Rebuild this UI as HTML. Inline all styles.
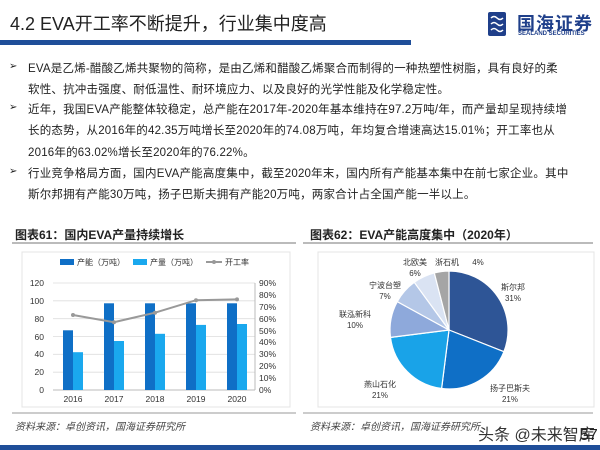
<!DOCTYPE html>
<html><head><meta charset="utf-8"><style>
body{margin:0;width:600px;height:450px;background:#fff;position:relative;overflow:hidden;font-family:"Liberation Sans","Noto Sans CJK SC",sans-serif;color:#222}
.a{position:absolute;white-space:nowrap}
.p{font-size:11.5px;left:28px;color:#222;letter-spacing:0.2px}
.b{left:9px;font-size:10px}
</style></head><body>
<div class="a" style="left:10px;top:10px;font-size:18px;color:#222">4.2 EVA开工率不断提升，行业集中度高</div>
<div class="a" style="left:0;top:40px;width:411px;height:5px;background:#1f4e99"></div>
<svg class="a" style="left:488px;top:12px" width="20" height="25"><g fill="#1f3f8a"><rect x="0" y="0" width="18" height="24" rx="2"/></g><g stroke="#fff" stroke-width="1.5" fill="none"><path d="M3 6 q3-3 6 0 t6 0"/><path d="M3 12 q3-3 6 0 t6 0"/><path d="M3 18 q3-3 6 0 t6 0"/></g></svg>
<div class="a" style="left:517px;top:10px;font-size:18px;font-weight:bold;color:#1f3f8a;letter-spacing:1px">国海证券</div>
<div class="a" style="left:518px;top:31px;font-size:6px;font-weight:bold;color:#1f3f8a">SEALAND SECURITIES</div>

<div class="a b" style="top:61px">➢</div>
<div class="a p" style="top:60px">EVA是乙烯-醋酸乙烯共聚物的简称，是由乙烯和醋酸乙烯聚合而制得的一种热塑性树脂，具有良好的柔</div>
<div class="a p" style="top:81px">软性、抗冲击强度、耐低温性、耐环境应力、以及良好的光学性能及化学稳定性。</div>
<div class="a b" style="top:102px">➢</div>
<div class="a p" style="top:101px">近年，我国EVA产能整体较稳定，总产能在2017年-2020年基本维持在97.2万吨/年，而产量却呈现持续增</div>
<div class="a p" style="top:122px">长的态势，从2016年的42.35万吨增长至2020年的74.08万吨，年均复合增速高达15.01%；开工率也从</div>
<div class="a p" style="top:144px">2016年的63.02%增长至2020年的76.22%。</div>
<div class="a b" style="top:166px">➢</div>
<div class="a p" style="top:165px">行业竞争格局方面，国内EVA产能高度集中，截至2020年末，国内所有产能基本集中在前七家企业。其中</div>
<div class="a p" style="top:186px">斯尔邦拥有产能30万吨，扬子巴斯夫拥有产能20万吨，两家合计占全国产能一半以上。</div>

<div class="a" style="left:15px;top:226px;font-size:12px;font-weight:bold;color:#222">图表61：国内EVA产量持续增长</div>
<div class="a" style="left:12px;top:242px;width:284px;height:2px;background:#bbb"></div>
<div class="a" style="left:310px;top:226px;font-size:12px;font-weight:bold;color:#222">图表62：EVA产能高度集中（2020年）</div>
<div class="a" style="left:303px;top:242px;width:290px;height:2px;background:#bbb"></div>

<svg class="a" style="left:0;top:0" width="600" height="450" font-family="Liberation Sans, Noto Sans CJK SC, sans-serif">
<rect x="22" y="252" width="268" height="155" fill="none" stroke="#e4e4e4"/>
<rect x="318" y="252" width="276" height="155" fill="none" stroke="#e4e4e4"/>
<g stroke="#ddd" stroke-width="0.8">
<line x1="53" x2="255" y1="283" y2="283"/><line x1="53" x2="255" y1="300.8" y2="300.8"/><line x1="53" x2="255" y1="318.7" y2="318.7"/><line x1="53" x2="255" y1="336.5" y2="336.5"/><line x1="53" x2="255" y1="354.3" y2="354.3"/><line x1="53" x2="255" y1="372.2" y2="372.2"/>
</g>
<line x1="53" x2="255" y1="390" y2="390" stroke="#bbb"/>
<line x1="255" x2="255" y1="283" y2="390" stroke="#bbb"/>
<g font-size="8.5" fill="#333" text-anchor="end">
<text x="44" y="286">120</text><text x="44" y="304">100</text><text x="44" y="322">80</text><text x="44" y="340">60</text><text x="44" y="357">40</text><text x="44" y="375">20</text><text x="44" y="393">0</text>
</g>
<g font-size="8.5" fill="#333">
<text x="259" y="286">90%</text><text x="259" y="298">80%</text><text x="259" y="310">70%</text><text x="259" y="322">60%</text><text x="259" y="334">50%</text><text x="259" y="345">40%</text><text x="259" y="357">30%</text><text x="259" y="369">20%</text><text x="259" y="381">10%</text><text x="259" y="393">0%</text>
</g>
<g fill="#0f6fc6">
<rect x="63" y="330.3" width="10" height="59.7"/><rect x="104" y="303.3" width="10" height="86.7"/><rect x="145" y="303.3" width="10" height="86.7"/><rect x="186" y="303.3" width="10" height="86.7"/><rect x="227" y="303.3" width="10" height="86.7"/>
</g>
<g fill="#1aa8ee">
<rect x="73" y="352.2" width="10" height="37.8"/><rect x="114" y="341" width="10" height="49"/><rect x="155" y="333.8" width="10" height="56.2"/><rect x="196" y="324.9" width="10" height="65.1"/><rect x="237" y="324" width="10" height="66"/>
</g>
<polyline points="73,315 114,322.2 155,312.7 196,300.2 237,299.4" fill="none" stroke="#999" stroke-width="2"/>
<g fill="#999"><circle cx="73" cy="315" r="2"/><circle cx="114" cy="322.2" r="2"/><circle cx="155" cy="312.7" r="2"/><circle cx="196" cy="300.2" r="2"/><circle cx="237" cy="299.4" r="2"/></g>
<g font-size="8.5" fill="#333" text-anchor="middle">
<text x="73" y="402">2016</text><text x="114" y="402">2017</text><text x="155" y="402">2018</text><text x="196" y="402">2019</text><text x="237" y="402">2020</text>
</g>
<rect x="60" y="259" width="14" height="6" fill="#0f6fc6"/><text x="77" y="265" font-size="8" fill="#333">产能（万吨）</text>
<rect x="133" y="259" width="14" height="6" fill="#1aa8ee"/><text x="150" y="265" font-size="8" fill="#333">产量（万吨）</text>
<line x1="206" x2="222" y1="262" y2="262" stroke="#999" stroke-width="2"/><circle cx="214" cy="262" r="2" fill="#999"/><text x="225" y="265" font-size="8" fill="#333">开工率</text>

<g stroke="#fff" stroke-width="1.2">
<path d="M449,330 L449,271 A59,59 0 0 1 503.9,351.7 Z" fill="#2e5596"/>
<path d="M449,330 L503.9,351.7 A59,59 0 0 1 441.6,388.5 Z" fill="#0f6fc6"/>
<path d="M449,330 L441.6,388.5 A59,59 0 0 1 390.5,337.4 Z" fill="#19a3e8"/>
<path d="M449,330 L390.5,337.4 A59,59 0 0 1 397.3,301.6 Z" fill="#8ea9db"/>
<path d="M449,330 L397.3,301.6 A59,59 0 0 1 414.3,282.3 Z" fill="#b4c7e7"/>
<path d="M449,330 L414.3,282.3 A59,59 0 0 1 434.3,272.9 Z" fill="#dae3f3"/>
<path d="M449,330 L434.3,272.9 A59,59 0 0 1 449,271 Z" fill="#a5a5a5"/>
</g>
<g font-size="8" fill="#333" text-anchor="middle">
<text x="513" y="290">斯尔邦</text><text x="513" y="301">31%</text>
<text x="510" y="391">扬子巴斯夫</text><text x="510" y="402">21%</text>
<text x="380" y="387">燕山石化</text><text x="380" y="398">21%</text>
<text x="355" y="317">联泓新科</text><text x="355" y="328">10%</text>
<text x="385" y="288">宁波台塑</text><text x="385" y="299">7%</text>
<text x="415" y="265">北欧美</text><text x="415" y="276">6%</text>
<text x="447" y="265">浙石机</text><text x="478" y="265">4%</text>
</g>
<line x1="12" x2="296" y1="413" y2="413" stroke="#bbb" stroke-width="1.5"/>
<line x1="303" x2="593" y1="413" y2="413" stroke="#bbb" stroke-width="1.5"/>
</svg>
<div class="a" style="left:15px;top:418px;font-size:10px;font-style:italic;color:#444">资料来源：卓创资讯，国海证券研究所</div>
<div class="a" style="left:310px;top:418px;font-size:10px;font-style:italic;color:#444">资料来源：卓创资讯，国海证券研究所</div>
<div class="a" style="left:478px;top:421px;font-size:16px;color:#333">头条 @未来智库</div>
<div class="a" style="left:580px;top:427px;font-size:16px;color:#222">57</div>
<div class="a" style="left:0;top:445px;width:600px;height:5px;background:#1f4e99"></div>
</body></html>
